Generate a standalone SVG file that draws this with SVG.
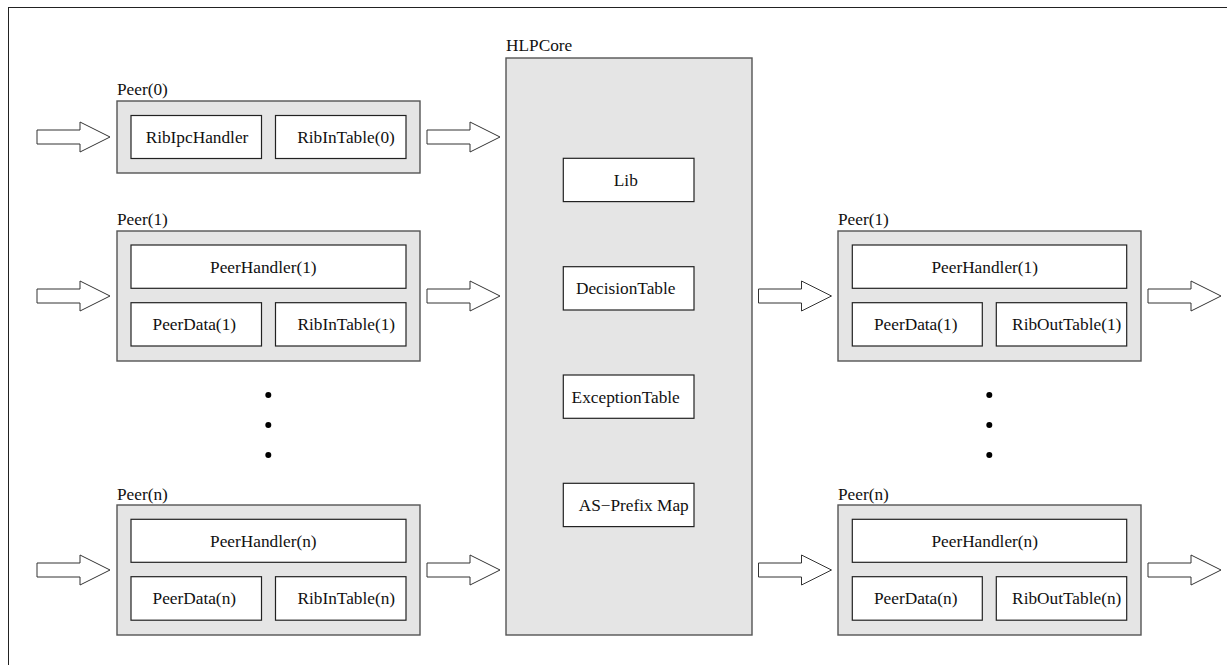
<svg xmlns="http://www.w3.org/2000/svg" xmlns:xlink="http://www.w3.org/1999/xlink" width="1227" height="665" viewBox="0 0 1227 665">
<style>
text{font-family:"Liberation Serif","Times New Roman",serif;font-size:17.3px;fill:#111}
.c{text-anchor:middle}
.outer{fill:#e5e5e5;stroke:#555;stroke-width:1.4}
.inner{fill:#fff;stroke:#222;stroke-width:1.2}
.arrow{fill:#fff;stroke:#333;stroke-width:1}
.dot{fill:#000}
</style>
<defs>
<path id="arr" d="M0,-7 H43 V-15 L73,0 L43,15 V7 H0 Z"/>
</defs>
<rect x="8.5" y="7.5" width="1240" height="680" fill="#fff" stroke="#222" stroke-width="1"/>

<g id="connectors" class="arrow">
<use xlink:href="#arr" x="37" y="137"/>
<use xlink:href="#arr" x="37" y="296"/>
<use xlink:href="#arr" x="37" y="570"/>
<use xlink:href="#arr" x="427" y="137"/>
<use xlink:href="#arr" x="427" y="296"/>
<use xlink:href="#arr" x="427" y="570"/>
<use xlink:href="#arr" x="758.5" y="296"/>
<use xlink:href="#arr" x="758.5" y="570"/>
<use xlink:href="#arr" x="1148" y="296"/>
<use xlink:href="#arr" x="1148" y="570"/>
</g>

<g id="peer0-in">
<text x="117" y="95">Peer(0)</text>
<rect class="outer" x="117" y="101" width="303" height="72"/>
<rect class="inner" x="131" y="115.5" width="130.5" height="43"/>
<rect class="inner" x="275.5" y="115.5" width="130.5" height="43"/>
<text class="c" x="197" y="143">RibIpcHandler</text>
<text class="c" x="346" y="143">RibInTable(0)</text>
</g>

<g id="peer1-in">
<text x="117" y="225">Peer(1)</text>
<rect class="outer" x="117" y="231" width="303" height="130"/>
<rect class="inner" x="131" y="245" width="275" height="43.3"/>
<rect class="inner" x="131" y="302.7" width="130.5" height="43.3"/>
<rect class="inner" x="275.5" y="302.7" width="130.5" height="43.3"/>
<text class="c" x="263.3" y="272.5">PeerHandler(1)</text>
<text class="c" x="194.3" y="330">PeerData(1)</text>
<text class="c" x="346.3" y="330">RibInTable(1)</text>
</g>

<g id="dots-left" class="dot">
<circle cx="268.3" cy="395" r="3"/>
<circle cx="268.3" cy="425" r="3"/>
<circle cx="268.3" cy="455" r="3"/>
</g>

<g id="peern-in">
<text x="117" y="500">Peer(n)</text>
<rect class="outer" x="117" y="505" width="303" height="130"/>
<rect class="inner" x="131" y="519.3" width="275" height="43"/>
<rect class="inner" x="131" y="576.7" width="130.5" height="43.5"/>
<rect class="inner" x="275.5" y="576.7" width="130.5" height="43.5"/>
<text class="c" x="263.3" y="546.8">PeerHandler(n)</text>
<text class="c" x="194.3" y="604.3">PeerData(n)</text>
<text class="c" x="346.3" y="604.3">RibInTable(n)</text>
</g>

<g id="hlpcore">
<text x="506" y="51">HLPCore</text>
<rect class="outer" x="506" y="58" width="246" height="577"/>
<rect class="inner" x="563.3" y="158.3" width="130.7" height="43.3"/>
<rect class="inner" x="563.3" y="266.7" width="130.7" height="43.3"/>
<rect class="inner" x="563.3" y="375" width="130.7" height="43.3"/>
<rect class="inner" x="563.3" y="483.3" width="130.7" height="43.3"/>
<text class="c" x="625.8" y="186">Lib</text>
<text class="c" x="625.7" y="294.3">DecisionTable</text>
<text class="c" x="625.7" y="402.6">ExceptionTable</text>
<text class="c" x="633.7" y="511">AS−Prefix Map</text>
</g>

<g id="peer1-out">
<text x="838" y="225">Peer(1)</text>
<rect class="outer" x="838" y="231" width="303" height="130"/>
<rect class="inner" x="852.3" y="245" width="274.4" height="43.3"/>
<rect class="inner" x="852.3" y="302.7" width="130" height="43.3"/>
<rect class="inner" x="996.3" y="302.7" width="130.4" height="43.3"/>
<text class="c" x="984.7" y="272.5">PeerHandler(1)</text>
<text class="c" x="915.7" y="330">PeerData(1)</text>
<text class="c" x="1066.7" y="330">RibOutTable(1)</text>
</g>

<g id="dots-right" class="dot">
<circle cx="989.3" cy="395" r="3"/>
<circle cx="989.3" cy="425" r="3"/>
<circle cx="989.3" cy="455" r="3"/>
</g>

<g id="peern-out">
<text x="838" y="500">Peer(n)</text>
<rect class="outer" x="838" y="505" width="303" height="130"/>
<rect class="inner" x="852.3" y="519.3" width="274.4" height="43"/>
<rect class="inner" x="852.3" y="576.7" width="130" height="43.5"/>
<rect class="inner" x="996.3" y="576.7" width="130.4" height="43.5"/>
<text class="c" x="984.7" y="546.8">PeerHandler(n)</text>
<text class="c" x="915.7" y="604.3">PeerData(n)</text>
<text class="c" x="1066.7" y="604.3">RibOutTable(n)</text>
</g>
</svg>
